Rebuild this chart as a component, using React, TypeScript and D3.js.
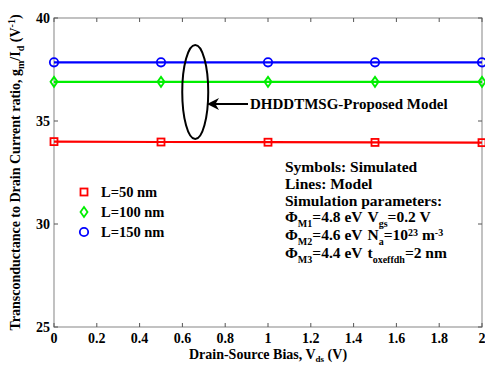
import React from "react";
import * as d3 from "d3";

const vds = [0, 0.5, 1, 1.5, 2];
const l50 = [34.0, 33.98, 33.97, 33.96, 33.95];
const l100 = [36.9, 36.9, 36.9, 36.9, 36.9];
const l150 = [37.85, 37.85, 37.85, 37.85, 37.85];
const xTicks = [0, 0.2, 0.4, 0.6, 0.8, 1, 1.2, 1.4, 1.6, 1.8, 2];
const yTicks = [25, 30, 35, 40];
const seriesNames = ["L=50 nm", "L=100 nm", "L=150 nm"];

const W = 485, H = 365;
const m = { left: 54, right: 482, top: 18, bottom: 327 };
const FONT = "'Liberation Serif', 'Times New Roman', serif";

export default function App() {
  const x = d3.scaleLinear().domain([0, 2]).range([m.left, m.right]);
  const y = d3.scaleLinear().domain([25, 40]).range([m.bottom, m.top]);
  const line = d3.line<number>().x((_, i) => x(vds[i])).y((d) => y(d));

  const series = [
    { vals: l50, color: "#ff0000", shape: "square" },
    { vals: l100, color: "#00ee00", shape: "diamond" },
    { vals: l150, color: "#0000ff", shape: "circle" },
  ];

  const marker = (shape: string, cx: number, cy: number, color: string, key: string) => {
    if (shape === "square")
      return <rect key={key} x={cx - 3.5} y={cy - 3.5} width={7} height={7} fill="none" stroke={color} strokeWidth={1.8} />;
    if (shape === "diamond")
      return <path key={key} d={`M${cx},${cy - 5}L${cx + 3.5},${cy}L${cx},${cy + 5}L${cx - 3.5},${cy}Z`} fill="none" stroke={color} strokeWidth={1.8} />;
    return <circle key={key} cx={cx} cy={cy} r={4.2} fill="none" stroke={color} strokeWidth={1.8} />;
  };

  const ellipseCx = x(0.66), ellipseCy = 92;

  return (
    <svg width={W} height={H} style={{ position: "absolute", left: 0, top: 0, background: "#fff" }} fontFamily={FONT} fontWeight="bold">
      <defs>
        <marker id="ah" viewBox="0 0 10 10" refX="9" refY="5" markerWidth="6" markerHeight="6" orient="auto-start-reverse">
          <path d="M0,0L10,5L0,10L3,5Z" fill="#000" />
        </marker>
      </defs>
      {/* axes box */}
      <rect x={m.left} y={m.top} width={m.right - m.left} height={m.bottom - m.top} fill="none" stroke="#999" strokeWidth={1.2} />
      {xTicks.map((t) => (
        <g key={"xt" + t}>
          <line x1={x(t)} x2={x(t)} y1={m.bottom} y2={m.bottom - 4} stroke="#555" />
          <line x1={x(t)} x2={x(t)} y1={m.top} y2={m.top + 4} stroke="#555" />
          <text x={x(t)} y={343} textAnchor="middle" fontSize={14}>{String(t)}</text>
        </g>
      ))}
      {yTicks.map((t) => (
        <g key={"yt" + t}>
          <line x1={m.left} x2={m.left + 4} y1={y(t)} y2={y(t)} stroke="#555" />
          <line x1={m.right} x2={m.right - 4} y1={y(t)} y2={y(t)} stroke="#555" />
          <text x={50} y={y(t) + 5} textAnchor="end" fontSize={14}>{String(t)}</text>
        </g>
      ))}
      {/* series */}
      {series.map((s, si) => (
        <g key={"s" + si}>
          <path d={line(s.vals) || ""} fill="none" stroke={s.color} strokeWidth={2.2} />
          {s.vals.map((v, i) => marker(s.shape, x(vds[i]), y(v), s.color, `m${si}-${i}`))}
        </g>
      ))}
      {/* legend */}
      {series.map((s, si) => (
        <g key={"lg" + si}>
          {marker(s.shape, 84, 192 + si * 20, s.color, "lm" + si)}
          <text x={101} y={197 + si * 20} fontSize={14.5}>{seriesNames[si]}</text>
        </g>
      ))}
      {/* ellipse annotation */}
      <ellipse cx={ellipseCx} cy={ellipseCy} rx={13} ry={47} fill="none" stroke="#000" strokeWidth={2} />
      <line x1={248} y1={104} x2={ellipseCx + 13} y2={104} stroke="#000" strokeWidth={2} markerEnd="url(#ah)" />
      <text x={250} y={109} fontSize={15}>DHDDTMSG-Proposed Model</text>
      {/* parameters box */}
      <g fontSize={15.5}>
        <text x={285} y={172}>Symbols: Simulated</text>
        <text x={285} y={189}>Lines: Model</text>
        <text x={285} y={206}>Simulation parameters:</text>
        <text x={285} y={222}>
          Φ<tspan fontSize={10} dy={5}>M1</tspan><tspan dy={-5}>=4.8 eV</tspan><tspan dx={5}>V</tspan><tspan fontSize={10} dy={5}>gs</tspan><tspan dy={-5}>=0.2 V</tspan>
        </text>
        <text x={285} y={240}>
          Φ<tspan fontSize={10} dy={5}>M2</tspan><tspan dy={-5}>=4.6 eV</tspan><tspan dx={5}>N</tspan><tspan fontSize={10} dy={5}>a</tspan><tspan dy={-5}>=10</tspan><tspan fontSize={10} dy={-4}>23</tspan><tspan dy={4}> m</tspan><tspan fontSize={10} dy={-4}>-3</tspan>
        </text>
        <text x={285} y={258}>
          Φ<tspan fontSize={10} dy={5}>M3</tspan><tspan dy={-5}>=4.4 eV</tspan><tspan dx={5}>t</tspan><tspan fontSize={10} dy={5}>oxeffdh</tspan><tspan dy={-5}>=2 nm</tspan>
        </text>
      </g>
      {/* axis titles */}
      <text x={268} y={359} textAnchor="middle" fontSize={14}>
        Drain-Source Bias, V<tspan fontSize={9} dy={3}>ds</tspan><tspan dy={-3}> (V)</tspan>
      </text>
      <text transform={`translate(20,${(m.top + m.bottom) / 2}) rotate(-90)`} textAnchor="middle" fontSize={14}>
        Transconductance to Drain Current ratio, g<tspan fontSize={10} dy={4}>m</tspan><tspan dy={-4}>/I</tspan><tspan fontSize={10} dy={4}>d</tspan><tspan dy={-4}> (V</tspan><tspan fontSize={10} dy={-5}>-1</tspan><tspan dy={5}>)</tspan>
      </text>
    </svg>
  );
}
